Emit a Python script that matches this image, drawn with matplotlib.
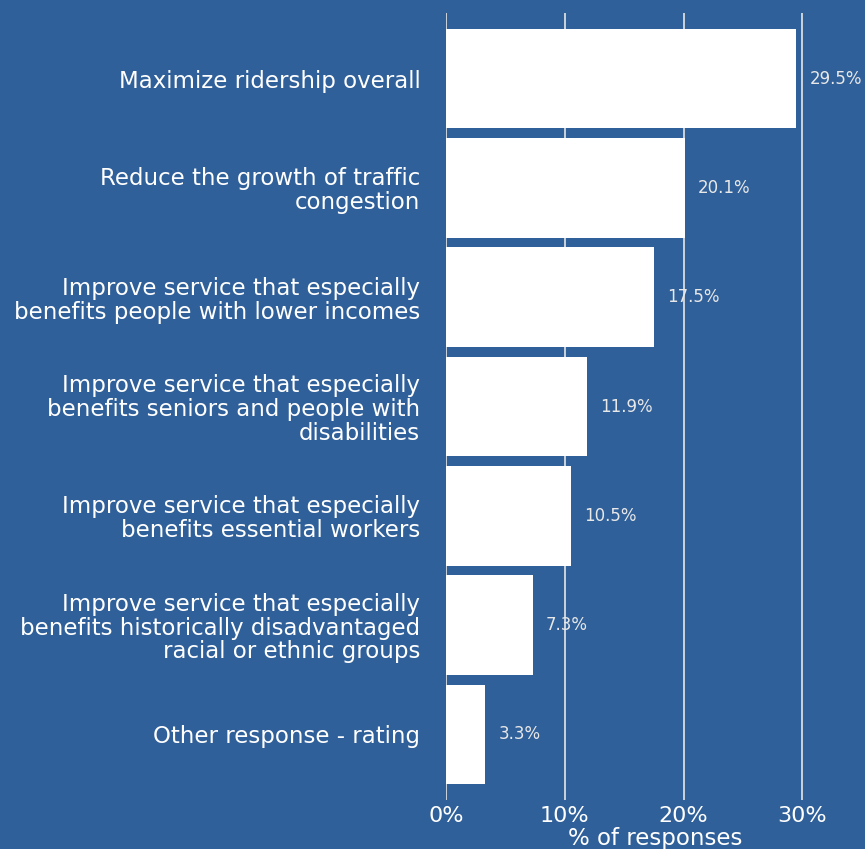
import matplotlib
matplotlib.use('Agg')
from matplotlib import pyplot as plt
from matplotlib.ticker import FuncFormatter

plt.rcParams['font.family'] = ['DejaVu Sans']

categories = [
    'Maximize ridership overall',
    'Reduce the growth of traffic\ncongestion',
    'Improve service that especially\nbenefits people with lower incomes',
    'Improve service that especially\nbenefits seniors and people with\ndisabilities',
    'Improve service that especially\nbenefits essential workers',
    'Improve service that especially\nbenefits historically disadvantaged\nracial or ethnic groups',
    'Other response - rating',
]
values = [29.5, 20.1, 17.5, 11.9, 10.5, 7.3, 3.3]
xticks = [0, 10, 20, 30]

bg = '#30609a'

fig = plt.figure(figsize=(8.65, 8.49), dpi=100, facecolor=bg)
ax = fig.add_axes([446 / 865, 1 - 800 / 849, (864 - 446) / 865, (800 - 13) / 849])
ax.set_facecolor(bg)

ypos = list(range(len(values)))
ax.barh(ypos, values, height=0.91, color='white', zorder=3)
for y, v in zip(ypos, values):
    ax.text(v + 1.1, y, '%.1f%%' % v, va='center', ha='left',
            color='#e8e8e8', fontsize=12, zorder=4)

ax.set_ylim(len(values) - 0.4, -0.6)
ax.set_xlim(0, 35.2)
ax.set_yticks(ypos)
ax.set_yticklabels(categories, fontsize=16.5, color='white', linespacing=1.05)
ax.set_xticks(xticks)
ax.xaxis.set_major_formatter(FuncFormatter(lambda x, p: '%d%%' % x))
ax.tick_params(axis='x', colors='white', labelsize=16, length=0, pad=4)
ax.tick_params(axis='y', length=0, pad=18.5)
ax.grid(axis='x', color='#e6e6e6', linewidth=1.2, zorder=1)
for s in ax.spines.values():
    s.set_visible(False)
ax.set_xlabel('% of responses', color='white', fontsize=16.5, labelpad=1)

fig.savefig('out.png', dpi=100, facecolor=bg)
